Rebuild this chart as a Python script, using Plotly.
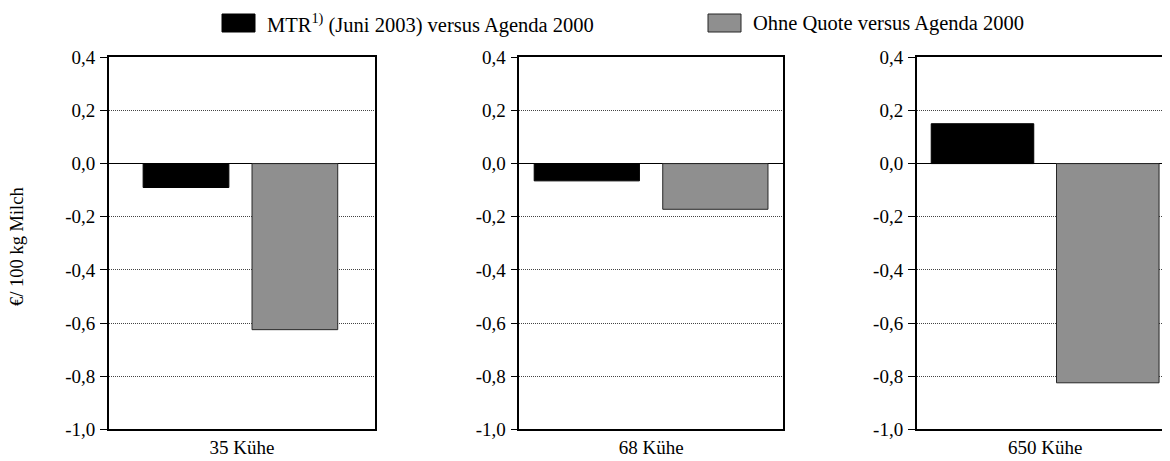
import plotly.graph_objects as go

# ---- data ----
categories = ["35 Kühe", "68 Kühe", "650 Kühe"]
mtr_values = [-0.09, -0.065, 0.15]          # MTR (Juni 2003) versus Agenda 2000
ohne_quote_values = [-0.625, -0.172, -0.825]  # Ohne Quote versus Agenda 2000
series_names = ["MTR<sup>1)</sup> (Juni 2003) versus Agenda 2000",
                "Ohne Quote versus Agenda 2000"]
y_tick_values = [-1.0, -0.8, -0.6, -0.4, -0.2, 0.0, 0.2, 0.4]
y_tick_labels = ["-1,0", "-0,8", "-0,6", "-0,4", "-0,2", "0,0", "0,2", "0,4"]
y_title = "€/ 100 kg Milch"

# ---- layout geometry ----
# The page body adds an 8px margin, so the figure is laid out 8px smaller
# and all pixel positions below are relative to the figure's own corner.
OFF = 8
W, H = 1170 - OFF, 461 - OFF
FONT = "Liberation Serif, Times New Roman, serif"
FS_TICK = 19
FS_LEG = 20.5
FS_TITLE = 18.5

panels_px = [(108.8 - OFF, 375.0 - OFF), (519.3 - OFF, 783.0 - OFF), (916.7 - OFF, 1170.0 - OFF)]
panel3_full_width = 257.0
y_top_px, y_bot_px = 57.3 - OFF, 429.3 - OFF
bar_geom = [  # (black offset, gray offset, width) in category units
    (-0.371, 0.038, 0.322),
    (-0.4435, 0.044, 0.399),
    (-0.4435, 0.044, 0.399),
]

fig = go.Figure()
for i, cat in enumerate(categories):
    ax = "" if i == 0 else str(i + 1)
    off_b, off_g, wd = bar_geom[i]
    fig.add_trace(go.Bar(
        x=[cat], y=[mtr_values[i]], xaxis="x" + ax, yaxis="y" + ax,
        marker=dict(color="#000000", line=dict(color="#000000", width=1)),
        offset=off_b, width=wd, showlegend=False, name=series_names[0]))
    fig.add_trace(go.Bar(
        x=[cat], y=[ohne_quote_values[i]], xaxis="x" + ax, yaxis="y" + ax,
        marker=dict(color="#8f8f8f", line=dict(color="#262626", width=1)),
        offset=off_g, width=wd, showlegend=False, name=series_names[1]))

ydom = [1 - y_bot_px / H, 1 - y_top_px / H]
layout = dict(
    template="none",
    width=W, height=H, margin=dict(l=0, r=0, t=0, b=0, pad=0, autoexpand=False),
    paper_bgcolor="white", plot_bgcolor="white",
    font=dict(family=FONT, size=FS_TICK, color="#000"),
    barmode="overlay", separators=", ", showlegend=False,
)
for i in range(3):
    key = "" if i == 0 else str(i + 1)
    x0, x1 = panels_px[i]
    if i == 2:
        xr = [-0.5, -0.5 + (x1 - x0) / panel3_full_width]
    else:
        xr = [-0.5, 0.5]
    layout["xaxis" + key] = dict(
        domain=[x0 / W, x1 / W], anchor="y" + key, type="category",
        range=xr, showline=True, linecolor="#000", linewidth=1.5,
        mirror=True, ticks="", showgrid=False, zeroline=False, automargin=False,
        tickfont=dict(family=FONT, size=FS_TICK), fixedrange=True)
    layout["yaxis" + key] = dict(
        domain=ydom, anchor="x" + key, range=[-1.0, 0.4],
        tickvals=y_tick_values, ticktext=y_tick_labels, automargin=False,
        showline=True, linecolor="#000", linewidth=1.5,
        mirror=(True if i < 2 else False),
        ticks="outside", ticklen=7, tickcolor="#000", tickwidth=1,
        ticklabelstandoff=1,
        showgrid=True, gridcolor="#444", gridwidth=1, griddash="1px,1px",
        zeroline=True, zerolinecolor="#000", zerolinewidth=1.2,
        tickfont=dict(family=FONT, size=FS_TICK), fixedrange=True)
fig.update_layout(**layout)

# y-axis title
fig.add_annotation(x=(17 - OFF) / W, y=1 - (247 - OFF) / H, xref="paper", yref="paper",
                   xanchor="center", yanchor="middle",
                   text=y_title, textangle=-90, showarrow=False,
                   font=dict(family=FONT, size=FS_TITLE))

# legend (drawn manually to match the wide swatches)
legend_items = [
    (222, 255, "#000000", "#000000", series_names[0]),
    (708, 741, "#8f8f8f", "#262626", series_names[1]),
]
for bx0, bx1, fill, edge, label in legend_items:
    fig.add_shape(type="rect", xref="paper", yref="paper",
                  x0=(bx0 - OFF) / W, x1=(bx1 - OFF) / W,
                  y0=1 - (32 - OFF) / H, y1=1 - (14 - OFF) / H,
                  fillcolor=fill, line=dict(color=edge, width=1))
    fig.add_annotation(x=(bx1 + 10 - OFF) / W, y=1 - (23.5 - OFF) / H,
                       xref="paper", yref="paper",
                       xanchor="left", yanchor="middle", text=label,
                       showarrow=False, font=dict(family=FONT, size=FS_LEG))

fig.write_html("out.html")
